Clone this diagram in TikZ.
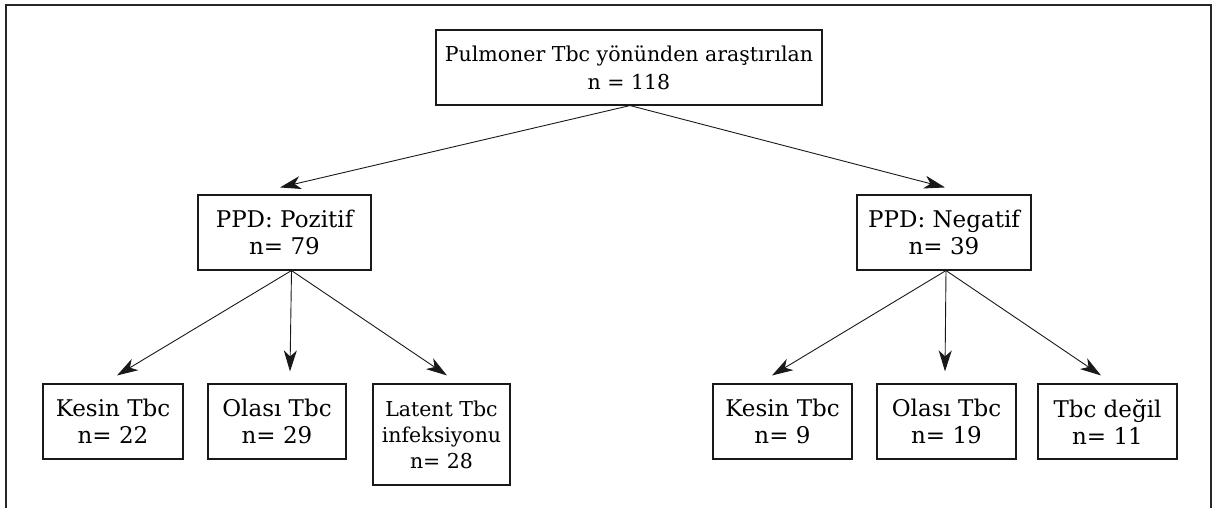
\documentclass[tikz,border=0pt]{standalone}
\usepackage{fontspec}
\setmainfont{DejaVu Serif}
\usetikzlibrary{arrows.meta}
\begin{document}
\begin{tikzpicture}[x=1pt,y=-1pt,
  box/.style={draw=black!90,line width=1.1pt,inner sep=0pt,align=center,
    minimum height=75pt,font=\fontsize{23}{27}\selectfont},
  arr/.style={draw=black!90,line width=0.9pt,-{Stealth[length=21pt,width=13pt,inset=6pt]}},
  frame/.style={draw=black!85,line width=1.6pt}]
\useasboundingbox (0,0) rectangle (1215,508);
\draw[frame] (6,508) -- (6,5) -- (1211,5) -- (1211,508);
\node[box,minimum width=386pt,font=\fontsize{20.5}{28}\selectfont] (top) at (629,67.5) {Pulmoner Tbc yönünden araştırılan\\n = 118};
\node[box,minimum width=173pt] (pos) at (284.5,232.5) {PPD: Pozitif\\n= 79};
\node[box,minimum width=174pt] (neg) at (944,232.5) {PPD: Negatif\\n= 39};
\node[box,minimum width=140pt] (k1) at (113,421.5) {Kesin Tbc\\n= 22};
\node[box,minimum width=138pt] (o1) at (277,421.5) {Olası Tbc\\n= 29};
\node[box,minimum width=137pt,minimum height=101pt,font=\fontsize{20.5}{26}\selectfont] (l1) at (441.5,434.5) {Latent Tbc\\infeksiyonu\\n= 28};
\node[box,minimum width=139pt] (k2) at (782.5,421.5) {Kesin Tbc\\n= 9};
\node[box,minimum width=139pt] (o2) at (946.5,421.5) {Olası Tbc\\n= 19};
\node[box,minimum width=139pt] (d2) at (1107.5,421.5) {Tbc değil\\n= 11};
\draw[arr] ([xshift=1pt]top.south) -- ([xshift=-4.5pt,yshift=7pt]pos.north);
\draw[arr] ([xshift=1pt]top.south) -- ([xshift=1pt,yshift=7pt]neg.north);
\draw[arr] ([xshift=7pt]pos.south) -- ([xshift=4pt,yshift=8pt]k1.north);
\draw[arr] ([xshift=7pt]pos.south) -- ([xshift=13pt,yshift=12pt]o1.north);
\draw[arr] ([xshift=7pt]pos.south) -- ([xshift=5.5pt,yshift=8pt]l1.north);
\draw[arr] ([xshift=2pt]neg.south) -- ([xshift=-10.5pt,yshift=8pt]k2.north);
\draw[arr] ([xshift=2pt]neg.south) -- ([xshift=-1.5pt,yshift=12pt]o2.north);
\draw[arr] ([xshift=2pt]neg.south) -- ([xshift=-6.5pt,yshift=8pt]d2.north);
\end{tikzpicture}
\end{document}
